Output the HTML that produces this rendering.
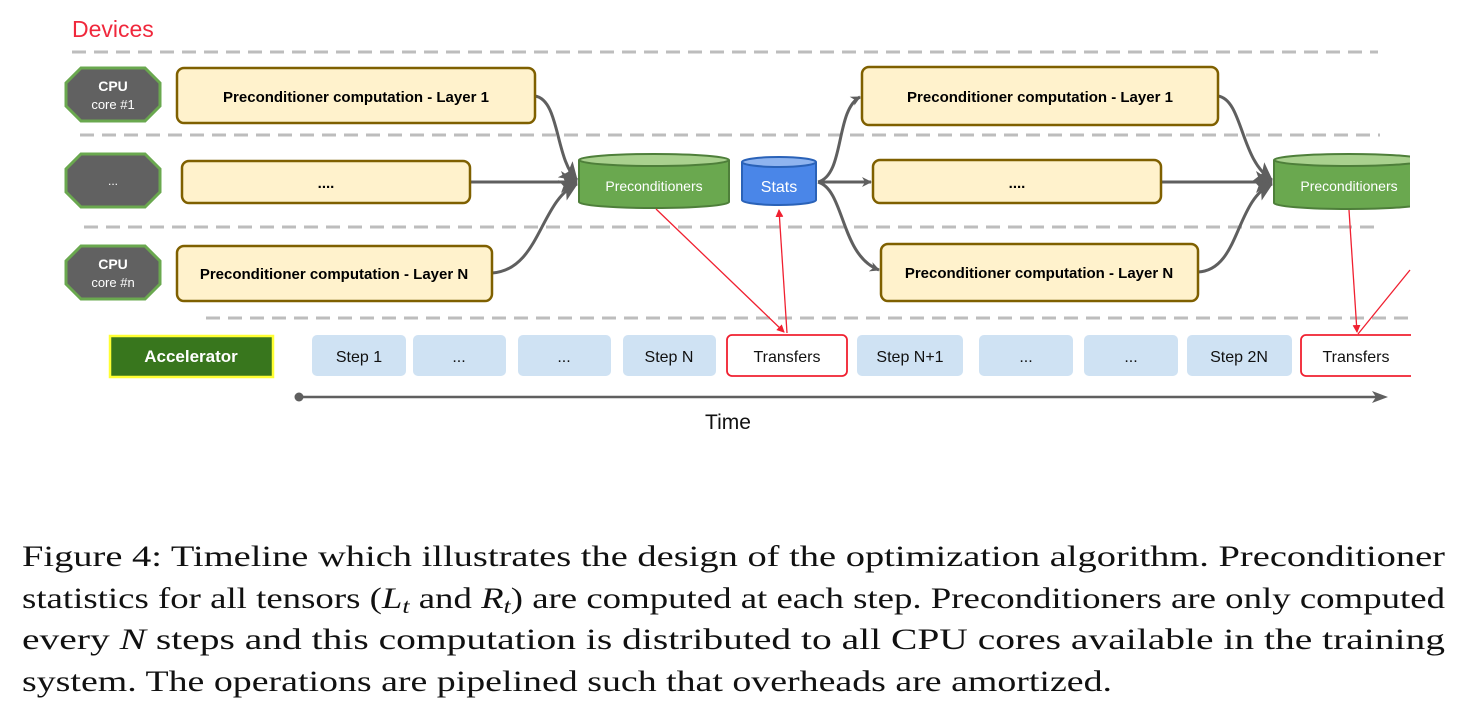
<!DOCTYPE html>
<html><head><meta charset="utf-8"><style>
html,body{margin:0;padding:0;background:#fff;}
svg{display:block;}
.b{font-family:"Liberation Sans",sans-serif;}
.cap{font-family:"Liberation Serif",serif;font-size:30px;fill:#111;}
</style></head><body>
<svg width="1476" height="710" viewBox="0 0 1476 710" xmlns="http://www.w3.org/2000/svg">
<defs>
<marker id="ga" markerWidth="10" markerHeight="10" refX="9" refY="5" orient="auto" markerUnits="userSpaceOnUse"><path d="M0,0 L10,5 L0,10 L3,5 z" fill="#5f5f5f"/></marker>
<marker id="gb" markerWidth="18" markerHeight="22" refX="16" refY="11" orient="auto" markerUnits="userSpaceOnUse"><path d="M0,0 L17,11 L0,22 L4,11 z" fill="#5f5f5f"/></marker>
<marker id="ra" markerWidth="8" markerHeight="8" refX="7" refY="4" orient="auto" markerUnits="userSpaceOnUse"><path d="M0,0 L8,4 L0,8 z" fill="#f02030"/></marker>
<clipPath id="cl"><rect x="0" y="0" width="1410" height="500"/></clipPath>
</defs>
<text x="72" y="37" class="b" font-size="23" fill="#f0283c">Devices</text>
<g stroke="#bdbdbd" stroke-width="3" stroke-dasharray="14,8" fill="none">
<line x1="72" y1="52" x2="1378" y2="52"/>
<line x1="80" y1="135" x2="1380" y2="135"/>
<line x1="84" y1="227" x2="1382" y2="227"/>
<line x1="206" y1="318" x2="1410" y2="318"/>
</g>
<g fill="#616161" stroke="#6aa84f" stroke-width="3">
<polygon points="81,68 145,68 160,83 160,106 145,121 81,121 66,106 66,83"/>
<polygon points="81,154 145,154 160,169 160,192 145,207 81,207 66,192 66,169"/>
<polygon points="81,246 145,246 160,261 160,284 145,299 81,299 66,284 66,261"/>
</g>
<g class="b" fill="#fff" text-anchor="middle">
<text x="113" y="91" font-size="14" font-weight="bold">CPU</text>
<text x="113" y="109" font-size="13">core #1</text>
<text x="113" y="185" font-size="12">...</text>
<text x="113" y="269" font-size="14" font-weight="bold">CPU</text>
<text x="113" y="287" font-size="13">core #n</text>
</g>
<g stroke="#5f5f5f" stroke-width="3" fill="none" clip-path="url(#cl)">
<path d="M535,96 C560,100 555,160 577,180" marker-end="url(#gb)"/>
<path d="M470,182 L577,182" marker-end="url(#gb)"/>
<path d="M492,273 C540,270 540,200 577,184" marker-end="url(#gb)"/>
<path d="M818,182 C845,175 835,110 860,97" marker-end="url(#ga)"/>
<path d="M818,182 L871,182" marker-end="url(#ga)"/>
<path d="M818,182 C845,190 840,255 879,270" marker-end="url(#ga)"/>
<path d="M1218,96 C1243,100 1240,160 1272,180" marker-end="url(#gb)"/>
<path d="M1161,182 L1272,182" marker-end="url(#gb)"/>
<path d="M1198,272 C1240,270 1235,200 1272,184" marker-end="url(#gb)"/>
</g>
<g fill="#fff2cc" stroke="#7f6000" stroke-width="2.5">
<rect x="177" y="68" width="358" height="55" rx="7"/>
<rect x="182" y="161" width="288" height="42" rx="7"/>
<rect x="177" y="246" width="315" height="55" rx="7"/>
<rect x="862" y="67" width="356" height="58" rx="7"/>
<rect x="873" y="160" width="288" height="43" rx="7"/>
<rect x="881" y="244" width="317" height="57" rx="7"/>
</g>
<g class="b" font-size="15" font-weight="bold" fill="#000" text-anchor="middle">
<text x="356" y="102">Preconditioner computation - Layer 1</text>
<text x="326" y="188">....</text>
<text x="334" y="279">Preconditioner computation - Layer N</text>
<text x="1040" y="102">Preconditioner computation - Layer 1</text>
<text x="1017" y="188">....</text>
<text x="1039" y="278">Preconditioner computation - Layer N</text>
</g>
<g stroke="#4e7f3a" stroke-width="2">
<path d="M579,160 L579,202 A75,6 0 0 0 729,202 L729,160" fill="#6aa84f"/>
<ellipse cx="654" cy="160" rx="75" ry="6" fill="#a9d18e"/>
</g>
<text x="654" y="191" class="b" font-size="14" fill="#fff" text-anchor="middle">Preconditioners</text>
<g stroke="#2a62b8" stroke-width="2">
<path d="M742,162 L742,200 A37,5 0 0 0 816,200 L816,162" fill="#4a86e8"/>
<ellipse cx="779" cy="162" rx="37" ry="5" fill="#8fb4ef"/>
</g>
<text x="779" y="192" class="b" font-size="16" fill="#fff" text-anchor="middle">Stats</text>
<g clip-path="url(#cl)">
<g stroke="#4e7f3a" stroke-width="2">
<path d="M1274,160 L1274,203 A75,6 0 0 0 1424,203 L1424,160" fill="#6aa84f"/>
<ellipse cx="1349" cy="160" rx="75" ry="6" fill="#a9d18e"/>
</g>
<text x="1349" y="191" class="b" font-size="14" fill="#fff" text-anchor="middle">Preconditioners</text>
</g>
<g stroke="#f02030" stroke-width="1.3" fill="none">
<line x1="656" y1="209" x2="784" y2="332" marker-end="url(#ra)"/>
<line x1="787" y1="333" x2="779" y2="210" marker-end="url(#ra)"/>
<line x1="1349" y1="210" x2="1357" y2="332" marker-end="url(#ra)"/>
<line x1="1358" y1="334" x2="1410" y2="270"/>
</g>
<rect x="110" y="336" width="163" height="41" fill="#38761d" stroke="#ffff33" stroke-width="2.5"/>
<text x="191" y="362" class="b" font-size="17" font-weight="bold" fill="#fff" text-anchor="middle">Accelerator</text>
<g fill="#cfe2f3">
<rect x="312" y="335" width="94" height="41" rx="5"/>
<rect x="413" y="335" width="93" height="41" rx="5"/>
<rect x="518" y="335" width="93" height="41" rx="5"/>
<rect x="623" y="335" width="93" height="41" rx="5"/>
<rect x="857" y="335" width="106" height="41" rx="5"/>
<rect x="979" y="335" width="94" height="41" rx="5"/>
<rect x="1084" y="335" width="94" height="41" rx="5"/>
<rect x="1187" y="335" width="105" height="41" rx="5"/>
</g>
<g fill="#fff" stroke="#f02030" stroke-width="1.8">
<rect x="727" y="335" width="120" height="41" rx="5"/>
<rect x="1301" y="335" width="130" height="41" rx="5"/>
</g>
<rect x="1411" y="330" width="30" height="50" fill="#fff"/>
<g class="b" font-size="16" fill="#111" text-anchor="middle">
<text x="359" y="362">Step 1</text>
<text x="459" y="362">...</text>
<text x="564" y="362">...</text>
<text x="669" y="362">Step N</text>
<text x="787" y="362">Transfers</text>
<text x="910" y="362">Step N+1</text>
<text x="1026" y="362">...</text>
<text x="1131" y="362">...</text>
<text x="1239" y="362">Step 2N</text>
<text x="1356" y="362">Transfers</text>
</g>
<circle cx="299" cy="397" r="4.5" fill="#5f5f5f"/>
<line x1="299" y1="397" x2="1378" y2="397" stroke="#5f5f5f" stroke-width="2.5"/>
<path d="M1372,391 L1388,397 L1372,403 L1376,397 z" fill="#5f5f5f"/>
<text x="728" y="429" class="b" font-size="21" fill="#111" text-anchor="middle">Time</text>
<text class="cap" x="22" y="566" textLength="1423" lengthAdjust="spacingAndGlyphs">Figure 4: Timeline which illustrates the design of the optimization algorithm. Preconditioner</text>
<text class="cap" x="22" y="608" textLength="1423" lengthAdjust="spacingAndGlyphs">statistics for all tensors (<tspan font-style="italic">L</tspan><tspan font-style="italic" font-size="21" dy="5">t</tspan><tspan dy="-5"> and </tspan><tspan font-style="italic">R</tspan><tspan font-style="italic" font-size="21" dy="5">t</tspan><tspan dy="-5">) are computed at each step. Preconditioners are only computed</tspan></text>
<text class="cap" x="22" y="649" textLength="1423" lengthAdjust="spacingAndGlyphs">every <tspan font-style="italic">N</tspan> steps and this computation is distributed to all CPU cores available in the training</text>
<text class="cap" x="22" y="691" textLength="1090" lengthAdjust="spacingAndGlyphs">system. The operations are pipelined such that overheads are amortized.</text>
</svg>
</body></html>
